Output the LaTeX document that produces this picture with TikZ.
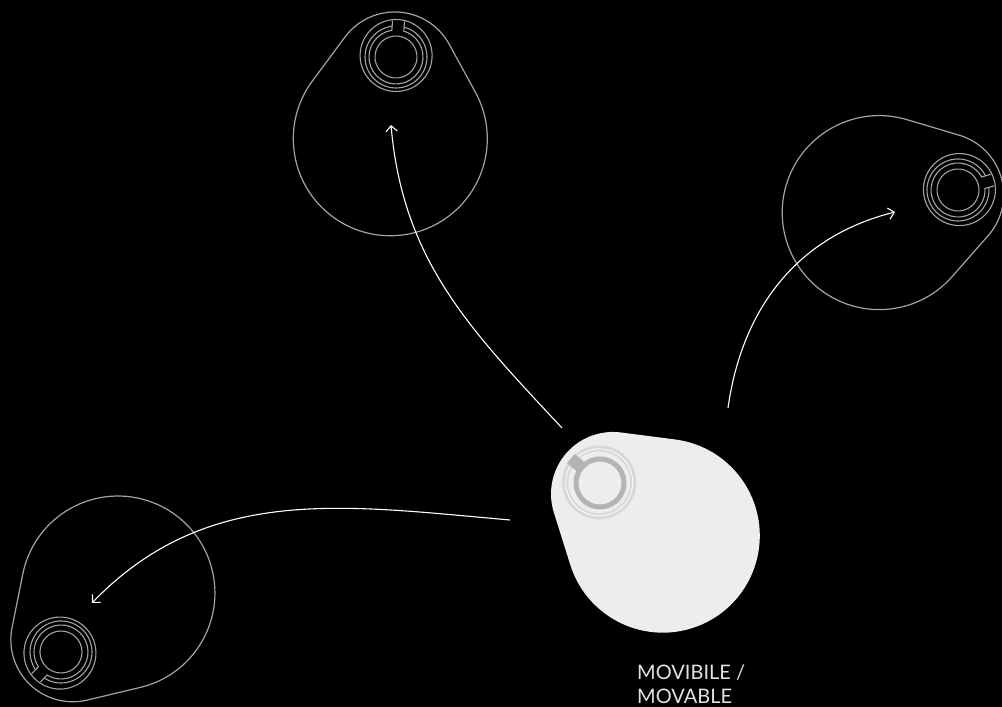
\documentclass[tikz,border=0pt]{standalone}
\usepackage{fontspec}
\setmainfont{Lato}
\usetikzlibrary{arrows.meta}
\definecolor{DropGray}{HTML}{A3A3A3}
\definecolor{DropFill}{HTML}{EDEDED}
\definecolor{RingDark}{HTML}{B4B4B4}
\definecolor{RingLight}{HTML}{D8D8D8}
\definecolor{TagGray}{HTML}{E2E2E2}

\begin{document}
\begin{tikzpicture}[
    x=1pt, y=1pt,
    outline/.style={draw=DropGray, line width=1.2pt},
    ringline/.style={draw=DropGray, line width=1.1pt},
    arrow/.style={-{Straight Barb[angle=90:8pt]}, draw=white, line width=1.1pt},
    tagtext/.style={text=TagGray, align=left, inner sep=0pt, font=\fontsize{20}{24}\selectfont},
    pics/dropline/.style={code={
      \draw[outline] (52.2,16.4) arc[start angle=32.6, end angle=147.4, radius=62]
        -- (-81.7,-29.7) arc[start angle=147.4, end angle=392.6, radius=97] -- cycle;
      \draw[ringline] (0,0) circle[radius=21];
      \draw[ringline] (0,1.5) circle[radius=36];
      \draw[ringline] (-6,36) -- (102.8:27) arc[start angle=102.8, end angle=437.2, radius=27] -- (6,36);
      \draw[ringline] (101.2:31) arc[start angle=101.2, end angle=438.8, radius=31];
    }},
    pics/dropsolid/.style={code={
      \fill[DropFill] (52.2,16.4) arc[start angle=32.6, end angle=147.4, radius=62]
        -- (-81.7,-29.7) arc[start angle=147.4, end angle=392.6, radius=97] -- cycle;
      \draw[RingLight, line width=6pt] (0,1) circle[radius=34];
      \draw[white, line width=0.8pt] (0,1) circle[radius=33.5];
      \draw[RingDark, line width=5pt] (0,0) circle[radius=24];
      \fill[RingDark] (-6,22) -- (6,22) -- (6,38) -- (-6,38) -- cycle;
    }}
  ]
    \useasboundingbox (0,0) rectangle (1002,707);
    \fill[black] (0,0) rectangle (1002,707);

    % the four positions
    \pic[rotate=-4] (top) at (396,650) {dropline};
    \pic[rotate=-74] (right) at (958,517) {dropline};
    \pic[rotate=136] (left) at (61,55) {dropline};
    \pic[rotate=50] (main) at (600,224) {dropsolid};

    % arrow ends
    \coordinate (up-start) at (562,279);
    \coordinate (up-end) at (391,582);
    \coordinate (rt-start) at (728,299);
    \coordinate (rt-end) at (895,495);
    \coordinate (lt-start) at (510,187);
    \coordinate (lt-end) at (92,104);

    \draw[arrow] (up-start) to[out=133, in=-85] (up-end);
    \draw[arrow] (rt-start) to[out=82, in=194] (rt-end);
    \draw[arrow] (lt-start) to[out=175, in=46] (lt-end);

    \node[tagtext, anchor=north west] (movable) at (637,42) {MOVIBILE /\\MOVABLE};
  \end{tikzpicture}
\end{document}
